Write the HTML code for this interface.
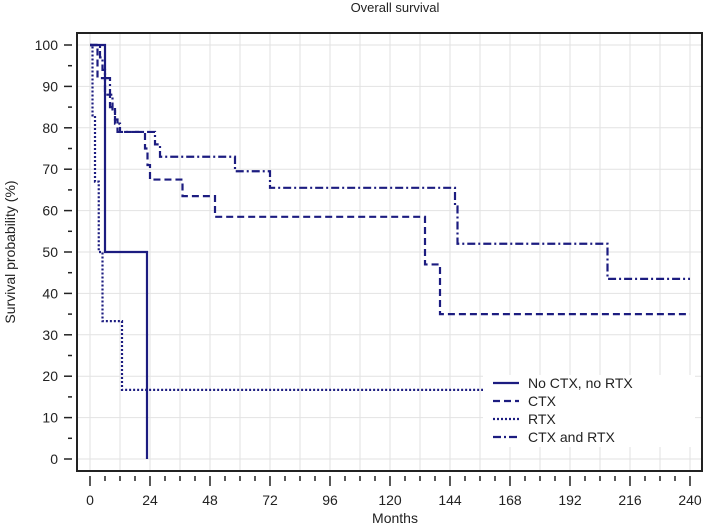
<!DOCTYPE html>
<html><head><meta charset="utf-8"><style>
body{margin:0;background:#fff;}
svg{display:block;font-family:"Liberation Sans",sans-serif;}
</style></head><body>
<svg id="chart" width="708" height="527">
<text x="395" y="12" text-anchor="middle" font-size="13" fill="#222">Overall survival</text>
<g id="grid"></g>
<g id="axes"></g>
<g id="series"></g>
<rect x="77" y="33" width="625" height="438" fill="none" stroke="#222" stroke-width="2"/>
<text x="395" y="523" text-anchor="middle" font-size="14" fill="#222">Months</text>
<text transform="translate(15,252) rotate(-90)" text-anchor="middle" font-size="14" fill="#222">Survival probability (%)</text>
<g id="legend">
<rect x="483" y="375" width="212" height="72" fill="#fff"/>
</g>
</svg>
<script>
const xTicks=[0,24,48,72,96,120,144,168,192,216,240];
const yTicks=[0,10,20,30,40,50,60,70,80,90,100];
const seriesNames=["No CTX, no RTX","CTX","RTX","CTX and RTX"];
const noneT=[0,6,22.8,22.8];
const noneS=[100,50,0,0];
const ctxT=[0,3,6,8,10,11,13,22,23,24,37,50,134,140,240];
const ctxS=[100,92,88,85,82,79,79,75,71,67.5,63.5,58.5,47,35,35];
const rtxT=[0,1,2,3.5,5,12.8,160];
const rtxS=[100,83,67,50,33.3,16.7,16.7];
const bothT=[0,4,5,6,8,9,10,12,26,28,58,72,146,147,207,240];
const bothS=[100,97,94,92,88,84,81,79,76,73,69.5,65.5,61,52,43.5,43.5];
const dashes=["","7,4","2,2","8,3,2,3"];
const X=m=>90+m*2.5, Y=v=>459-v*4.14;
const NS="http://www.w3.org/2000/svg";
function mk(tag,attrs,parent){const e=document.createElementNS(NS,tag);for(const k in attrs)e.setAttribute(k,attrs[k]);parent.appendChild(e);return e;}
const grid=document.getElementById('grid'),axes=document.getElementById('axes'),ser=document.getElementById('series'),leg=document.getElementById('legend');
for(let m=0;m<=240;m+=12){const l=mk('line',{x1:X(m),x2:X(m),y1:34,y2:470,stroke:'#e2e2e2'},grid);

}
yTicks.forEach(v=>{const l=mk('line',{x1:78,x2:701,y1:Y(v),y2:Y(v),stroke:'#e2e2e2'},grid);

});
for(let m=0;m<=240;m+=6){const major=m%24===0;const t=mk('line',{x1:X(m),x2:X(m),y1:476,y2:major?486:481,stroke:'#222','stroke-width':1.5},axes);

}
xTicks.forEach(m=>{const t=mk('text',{x:X(m),y:505,'text-anchor':'middle','font-size':14,fill:'#222'},axes);t.textContent=m;

});
for(let v=0;v<=100;v+=5){const major=v%10===0;const t=mk('line',{x1:major?64:68,x2:72,y1:Y(v),y2:Y(v),stroke:'#222','stroke-width':1.5},axes);

}
yTicks.forEach(v=>{const t=mk('text',{x:58,y:Y(v)+5,'text-anchor':'end','font-size':14,fill:'#222'},axes);t.textContent=v;

});
const all=[[noneT,noneS],[ctxT,ctxS],[rtxT,rtxS],[bothT,bothS]];
const names=['series-no-ctx-no-rtx','series-ctx','series-rtx','series-ctx-and-rtx'];
all.forEach(([T,S],i)=>{let d=`M${X(T[0])},${Y(S[0])}`;for(let k=1;k<T.length;k++){d+=`H${X(T[k])}V${Y(S[k])}`;}
const p=mk('path',{d:d,fill:'none',stroke:'#1c1c80','stroke-width':2.2,'stroke-dasharray':dashes[i]},ser);


const ly=[388,406,424,442][i];
const ll=mk('line',{x1:493,x2:519,y1:ly-5,y2:ly-5,stroke:'#1c1c80','stroke-width':2.2,'stroke-dasharray':dashes[i]},leg);


const lt=mk('text',{x:528,y:ly,'font-size':14,fill:'#222'},leg);lt.textContent=seriesNames[i];

});
</script>
</body></html>
